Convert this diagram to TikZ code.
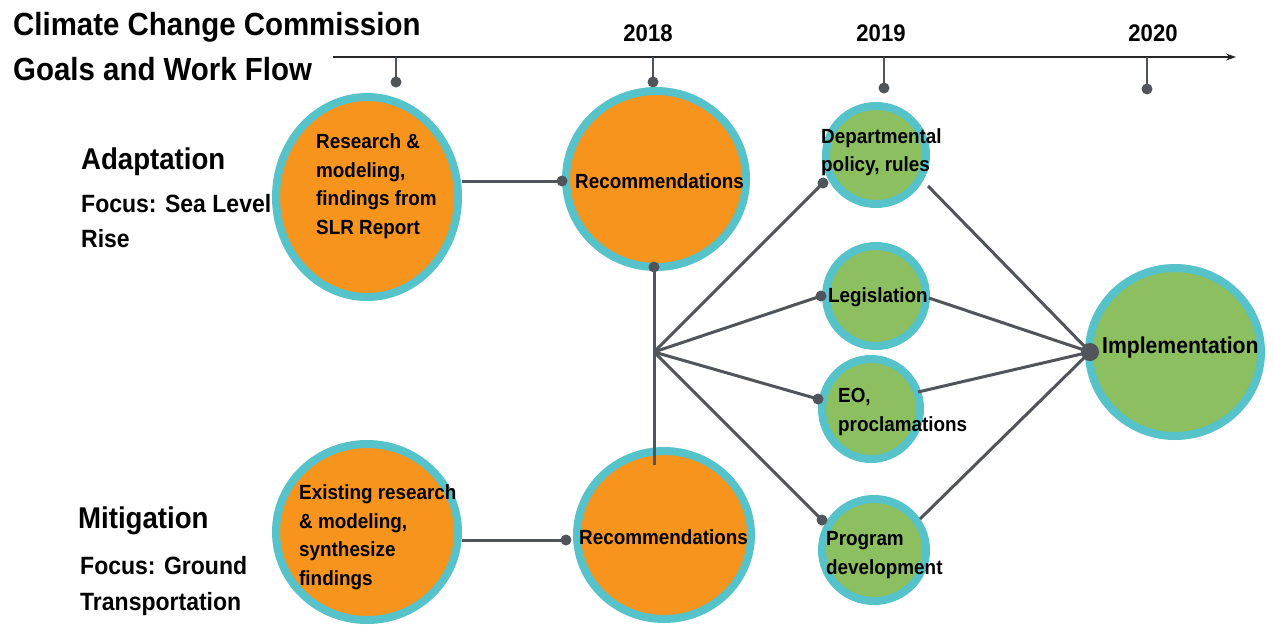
\documentclass[tikz,border=0pt]{standalone}
\usepackage{fontspec}
\setmainfont{Liberation Sans}[FakeStretch=0.92]
\usetikzlibrary{shapes.geometric,arrows.meta}
\definecolor{orangec}{HTML}{F7941D}
\definecolor{greenc}{HTML}{8CBF5F}
\definecolor{tealc}{HTML}{56C2C9}
\definecolor{linec}{HTML}{50555B}
\begin{document}
\begin{tikzpicture}[x=1pt,y=-1pt,
  bubble/.style={ellipse,draw=tealc,line width=8pt,inner sep=0pt},
  orangebub/.style={bubble,fill=orangec},
  greenbub/.style={bubble,fill=greenc},
  conn/.style={draw=linec,line width=3pt},
  tick/.style={draw=linec,line width=2.5pt},
  ctext/.style={font=\bfseries\fontsize{20.5}{28.5}\selectfont,align=left,inner sep=0pt,anchor=west},
  year/.style={font=\bfseries\fontsize{24}{28}\selectfont,inner sep=0pt},
  head/.style={font=\bfseries\fontsize{30}{34}\selectfont,inner sep=0pt,anchor=west},
  sub/.style={font=\bfseries\fontsize{25}{35.5}\selectfont,inner sep=0pt,anchor=west,align=left},
]
\useasboundingbox (0,0) rectangle (1274,625);
\fill[white] (0,0) rectangle (1274,625);

% title
\node[font=\bfseries\fontsize{32}{45}\selectfont,align=left,inner sep=0pt,anchor=north west] (title) at (13,12)
  {Climate Change Commission\\Goals and Work Flow};

% timeline
\coordinate (tl0) at (333,57);
\coordinate (tl1) at (1236,57);
\draw[line width=2pt,draw=black!85,-{Stealth[length=10pt,width=7pt]}] (tl0) -- (tl1);
\coordinate (t0a) at (396,57); \coordinate (t0b) at (396,82);
\coordinate (t1a) at (653,57); \coordinate (t1b) at (653,82);
\coordinate (t2a) at (884,57); \coordinate (t2b) at (884,88);
\coordinate (t3a) at (1147,57); \coordinate (t3b) at (1147,89);
\draw[tick] (t0a) -- (t0b); \fill[linec] (t0b) circle (5.5);
\draw[tick] (t1a) -- (t1b); \fill[linec] (t1b) circle (5.5);
\draw[tick] (t2a) -- (t2b); \fill[linec] (t2b) circle (5.5);
\draw[tick] (t3a) -- (t3b); \fill[linec] (t3b) circle (5.5);
\node[year] (y2018) at (648,33) {2018};
\node[year] (y2019) at (881,33) {2019};
\node[year] (y2020) at (1153,33) {2020};

% side labels
\node[head] (adapt) at (81,162) {Adaptation};
\node[sub] (adaptf) at (81,221) {Focus: Sea Level\\Rise};
\node[head] (mitig) at (78,521) {Mitigation};
\node[sub] (mitigf) at (80,586) {Focus: Ground\\Transportation};

% bubbles
\node[orangebub,minimum width=182pt,minimum height=200pt] (res) at (367,197) {};
\node[orangebub,minimum width=180pt,minimum height=176pt] (rec1) at (656,179) {};
\node[greenbub,minimum width=100pt,minimum height=98pt] (dep) at (876,155) {};
\node[greenbub,minimum width=100pt,minimum height=100pt] (leg) at (876,296) {};
\node[greenbub,minimum width=98pt,minimum height=100pt] (eo) at (871,409) {};
\node[greenbub,minimum width=104pt,minimum height=102pt] (prog) at (874,550) {};
\node[greenbub,minimum width=172pt,minimum height=168pt] (impl) at (1175,352) {};
\node[orangebub,minimum width=182pt,minimum height=176pt] (exi) at (367,532) {};
\node[orangebub,minimum width=174pt,minimum height=168pt] (rec2) at (664,535) {};

% connectors
\coordinate (a1) at (462,181); \coordinate (a2) at (562,181);
\draw[conn] (a1) -- (a2); \fill[linec] (a2) circle (5.5);
\coordinate (b1) at (462,540); \coordinate (b2) at (566,540);
\draw[conn] (b1) -- (b2); \fill[linec] (b2) circle (5.5);
\coordinate (vtop) at (654,267); \coordinate (vbot) at (654,465);
\draw[conn] (vbot) -- (vtop); \fill[linec] (vtop) circle (5.5);
\coordinate (hub) at (654,352);
\coordinate (dIn) at (823,183);
\coordinate (lIn) at (821,296);
\coordinate (eIn) at (818,399);
\coordinate (pIn) at (822,520);
\draw[conn] (hub) -- (dIn); \fill[linec] (dIn) circle (5.5);
\draw[conn] (hub) -- (lIn); \fill[linec] (lIn) circle (5.5);
\draw[conn] (hub) -- (eIn); \fill[linec] (eIn) circle (5.5);
\draw[conn] (hub) -- (pIn); \fill[linec] (pIn) circle (5.5);
\coordinate (dOut) at (928,186);
\coordinate (lOut) at (929,298);
\coordinate (eOut) at (918,392);
\coordinate (pOut) at (920,519);
\coordinate (iIn) at (1090,352);
\draw[conn] (dOut) -- (iIn);
\draw[conn] (lOut) -- (iIn);
\draw[conn] (eOut) -- (iIn);
\draw[conn] (pOut) -- (iIn);
\fill[linec] (iIn) circle (9);

% bubble texts
\node[ctext] (tres) at (316,186) {Research \&\\modeling,\\findings from\\SLR Report};
\node[ctext] (trec1) at (575,181) {Recommendations};
\node[ctext] (tdep) at (821,152) {Departmental\\policy, rules};
\node[ctext] (tleg) at (828,297) {Legislation};
\node[ctext] (teo) at (838,412) {EO,\\proclamations};
\node[ctext] (tprog) at (826,555) {Program\\development};
\node[font=\bfseries\fontsize{23}{28}\selectfont,inner sep=0pt,anchor=west] (timpl) at (1102,348) {Implementation};
\node[ctext] (texi) at (299,537) {Existing research\\\& modeling,\\synthesize\\findings};
\node[ctext] (trec2) at (579,537) {Recommendations};
\end{tikzpicture}
\end{document}
